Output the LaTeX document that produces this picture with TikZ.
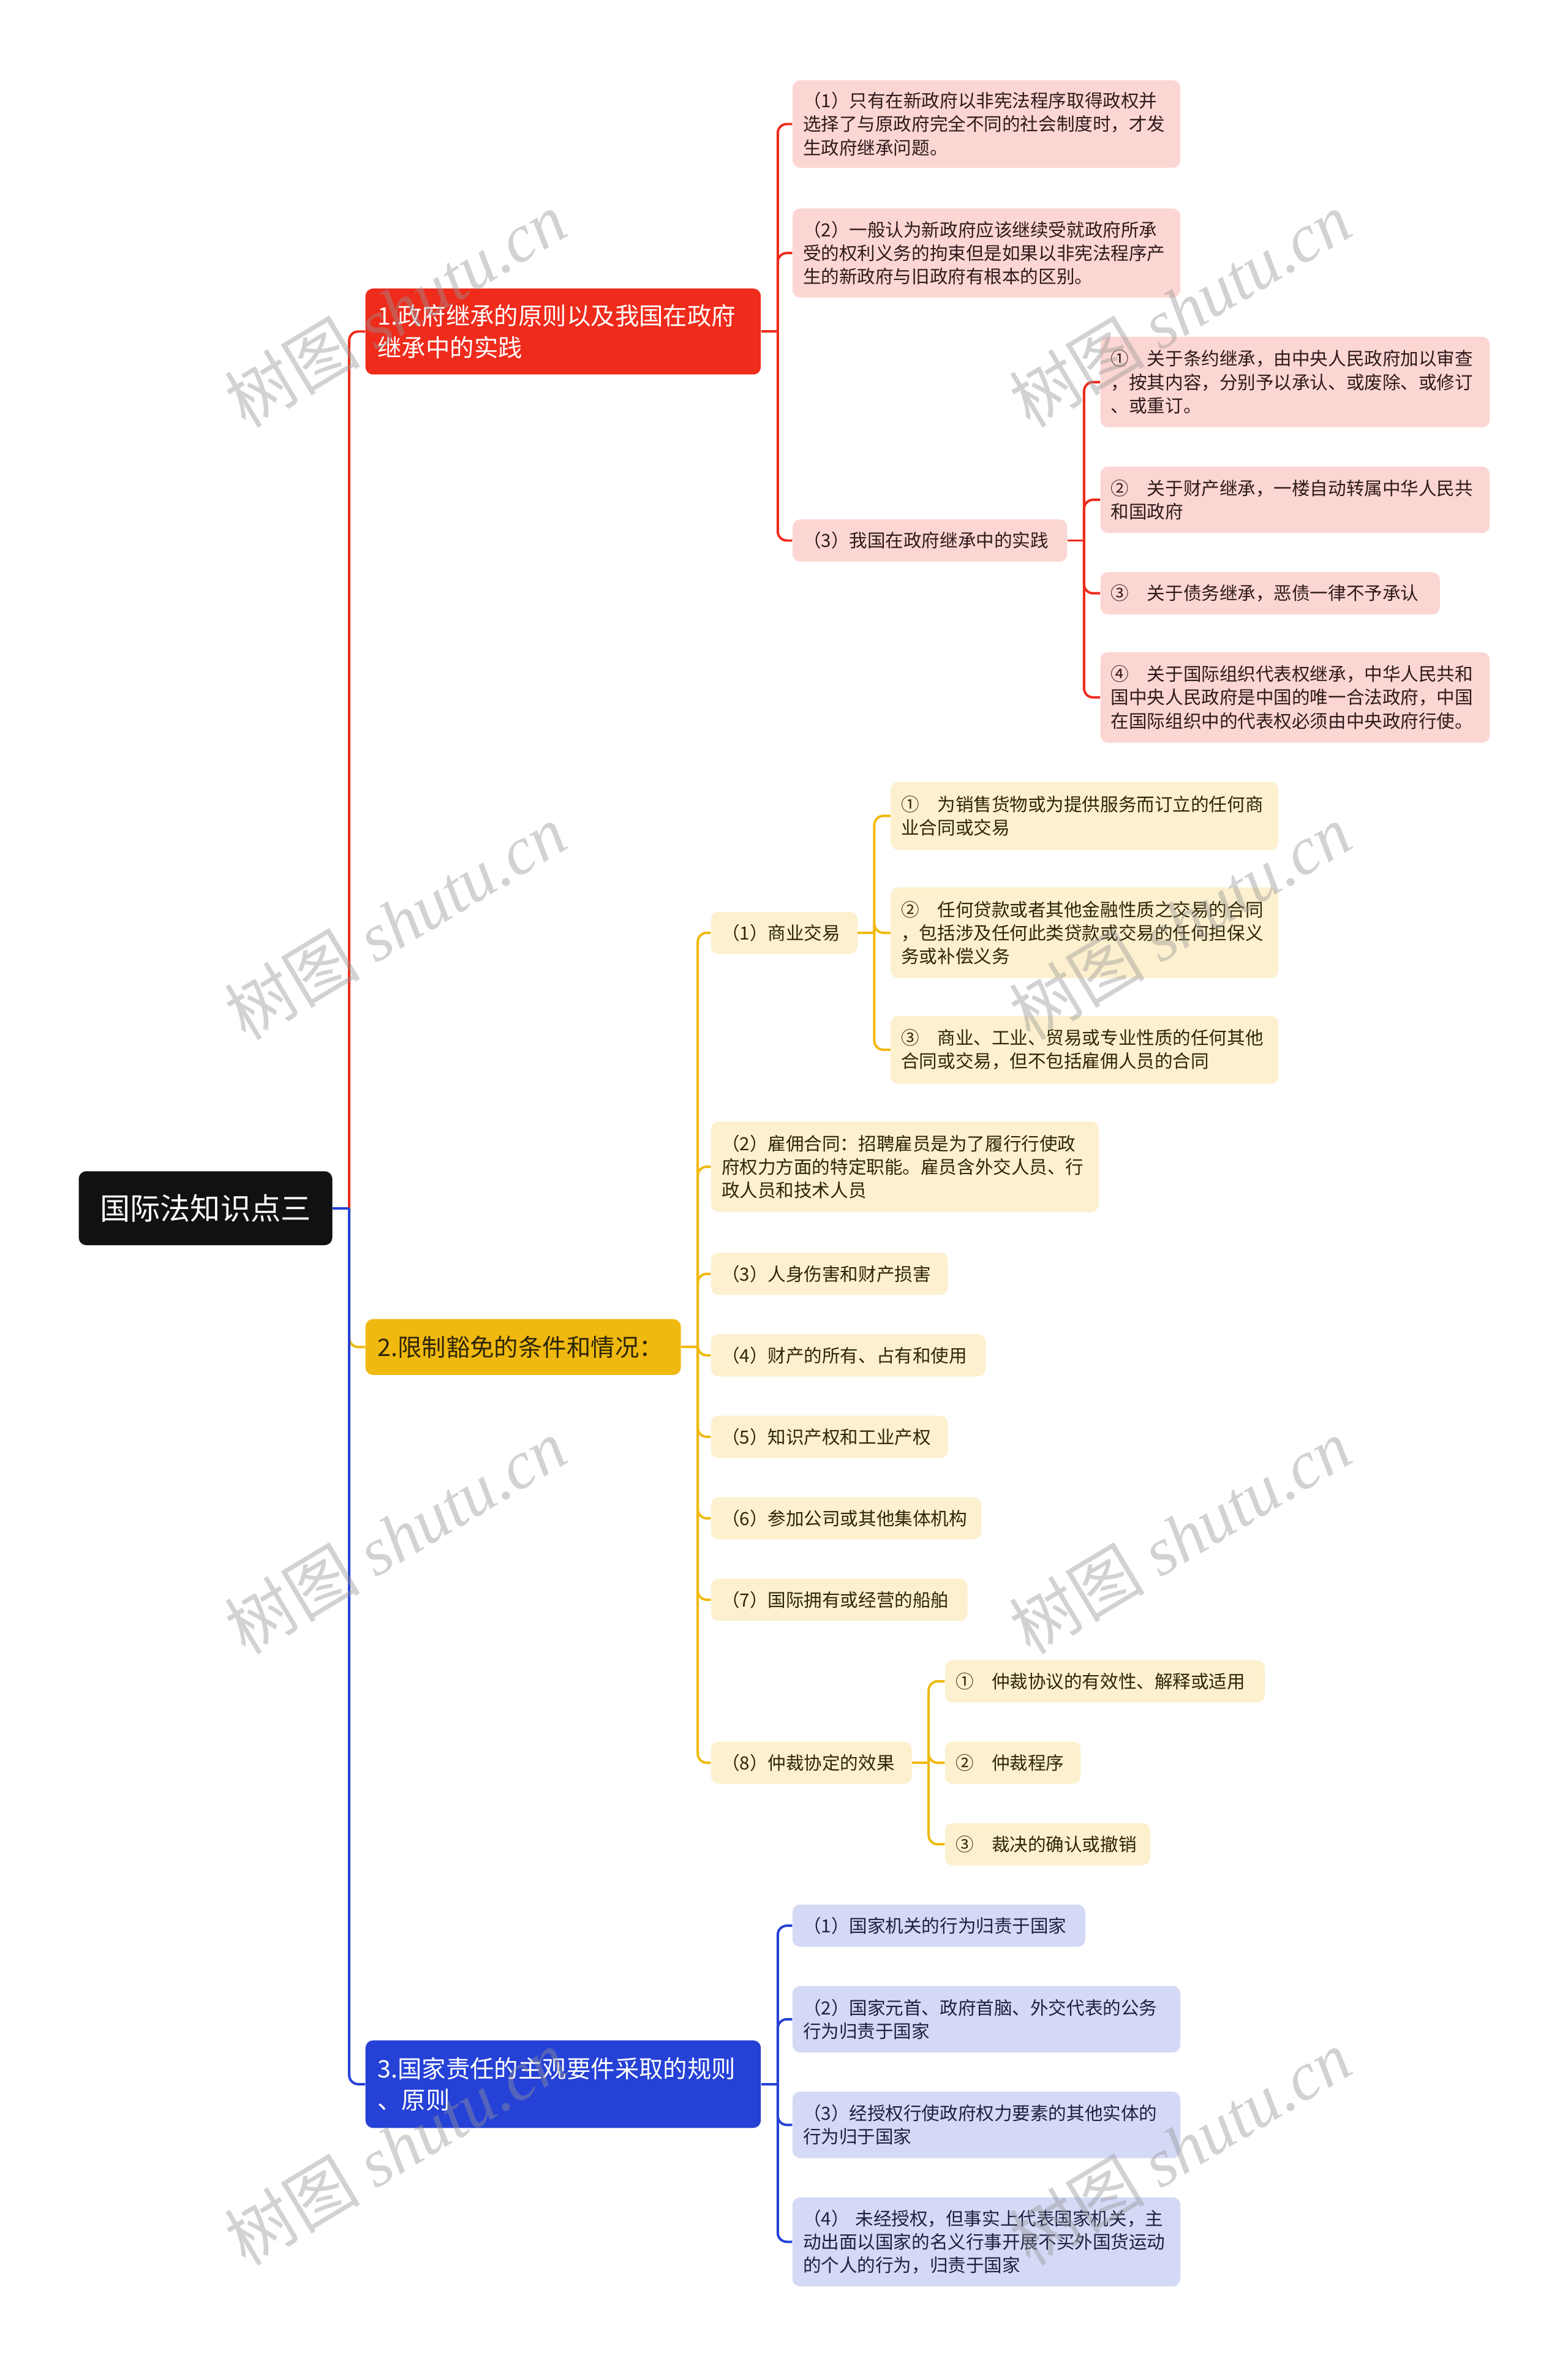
\documentclass[tikz,border=0pt]{standalone}
\usepackage{fontspec}
\setmainfont{Noto Sans CJK SC}
\newfontfamily\wmserif{Liberation Serif}
\newfontfamily\wmcjk{Noto Sans CJK SC}
\definecolor{cRed}{HTML}{EF2B1B}
\definecolor{cRedL}{HTML}{FCD6D3}
\definecolor{cYel}{HTML}{F0B90F}
\definecolor{cYelL}{HTML}{FDF0CE}
\definecolor{cBlu}{HTML}{2541D6}
\definecolor{cBluL}{HTML}{D4D9F6}
\definecolor{cRoot}{HTML}{111111}
\definecolor{tRed}{HTML}{2E1A1A}
\definecolor{tYel}{HTML}{2E2608}
\definecolor{tBlu}{HTML}{1C2140}
\definecolor{cWm}{HTML}{969696}
\tikzset{
  base/.style={rectangle, rounded corners=5pt, inner xsep=6pt, inner ysep=0pt, align=left, anchor=north west},
  sub/.style={base, font=\fontsize{12}{15.5}\selectfont},
  pinkbox/.style={sub, fill=cRedL, text=tRed},
  yelbox/.style={sub, fill=cYelL, text=tYel},
  blubox/.style={sub, fill=cBluL, text=tBlu},
  mainbox/.style={base, inner xsep=8pt, font=\fontsize{16}{21}\selectfont},
  redmain/.style={mainbox, fill=cRed, text=white},
  yelmain/.style={mainbox, fill=cYel, text=tYel},
  blumain/.style={mainbox, fill=cBlu, text=white},
  rootbox/.style={rectangle, rounded corners=5pt, fill=cRoot, text=white, anchor=north west, align=center, font=\fontsize{20}{24}\selectfont},
  lnR/.style={draw=cRed, line width=1.6pt, rounded corners=6pt},
  lnY/.style={draw=cYel, line width=1.6pt, rounded corners=6pt},
  lnB/.style={draw=cBlu, line width=1.6pt, rounded corners=6pt},
  wm/.style={text=cWm, text opacity=0.42, rotate=31, inner sep=0pt, font=\fontsize{45}{49}\selectfont},
}
\newcommand\boxnode[7]{%
  \pgfmathsetmacro\bw{#5-#3}%
  \pgfmathsetmacro\bh{#6-#4}%
  \pgfmathsetmacro\tw{#5-#3-14}%
  \node[#2, minimum width=\bw pt, minimum height=\bh pt, text width=\tw pt] (#1) at (#3,#4) {#7};}
\begin{document}
\begin{tikzpicture}[x=1pt, y={(0pt,-1pt)}]
\useasboundingbox[fill=white] (0,0) rectangle (1039,1568);

% root and main branches
\node[rootbox, minimum width=168pt, minimum height=49pt] (root) at (52,776) {国际法知识点三};
\boxnode{b1}{redmain}{242}{191}{502}{248}{1.政府继承的原则以及我国在政府\\继承中的实践}
\boxnode{b2}{yelmain}{242}{874}{449}{911}{2.限制豁免的条件和情况：}
\boxnode{b3}{blumain}{242}{1352}{502}{1410}{3.国家责任的主观要件采取的规则\\、原则}

% branch 1
\boxnode{c11}{pinkbox}{525}{53}{782}{111}{（1）只有在新政府以非宪法程序取得政权并\\选择了与原政府完全不同的社会制度时，才发\\生政府继承问题。}
\boxnode{c12}{pinkbox}{525}{138}{782}{197}{（2）一般认为新政府应该继续受就政府所承\\受的权利义务的拘束但是如果以非宪法程序产\\生的新政府与旧政府有根本的区别。}
\boxnode{c13}{pinkbox}{525}{344}{707}{372}{（3）我国在政府继承中的实践}
\boxnode{c131}{pinkbox}{729}{223}{987}{283}{①　关于条约继承，由中央人民政府加以审查\\，按其内容，分别予以承认、或废除、或修订\\、或重订。}
\boxnode{c132}{pinkbox}{729}{309}{987}{353}{②　关于财产继承，一楼自动转属中华人民共\\和国政府}
\boxnode{c133}{pinkbox}{729}{379}{954}{407}{③　关于债务继承，恶债一律不予承认}
\boxnode{c134}{pinkbox}{729}{432}{987}{492}{④　关于国际组织代表权继承，中华人民共和\\国中央人民政府是中国的唯一合法政府，中国\\在国际组织中的代表权必须由中央政府行使。}

% branch 2
\boxnode{c21}{yelbox}{471}{604}{568}{632}{（1）商业交易}
\boxnode{c211}{yelbox}{590}{518}{847}{563}{①　为销售货物或为提供服务而订立的任何商\\业合同或交易}
\boxnode{c212}{yelbox}{590}{588}{847}{648}{②　任何贷款或者其他金融性质之交易的合同\\，包括涉及任何此类贷款或交易的任何担保义\\务或补偿义务}
\boxnode{c213}{yelbox}{590}{673}{847}{718}{③　商业、工业、贸易或专业性质的任何其他\\合同或交易，但不包括雇佣人员的合同}
\boxnode{c22}{yelbox}{471}{743}{728}{803}{（2）雇佣合同：招聘雇员是为了履行行使政\\府权力方面的特定职能。雇员含外交人员、行\\政人员和技术人员}
\boxnode{c23}{yelbox}{471}{830}{628}{858}{（3）人身伤害和财产损害}
\boxnode{c24}{yelbox}{471}{884}{653}{912}{（4）财产的所有、占有和使用}
\boxnode{c25}{yelbox}{471}{938}{628}{966}{（5）知识产权和工业产权}
\boxnode{c26}{yelbox}{471}{992}{650}{1020}{（6）参加公司或其他集体机构}
\boxnode{c27}{yelbox}{471}{1046}{641}{1074}{（7）国际拥有或经营的船舶}
\boxnode{c28}{yelbox}{471}{1154}{604}{1182}{（8）仲裁协定的效果}
\boxnode{c281}{yelbox}{626}{1100}{838}{1128}{①　仲裁协议的有效性、解释或适用}
\boxnode{c282}{yelbox}{626}{1154}{716}{1182}{②　仲裁程序}
\boxnode{c283}{yelbox}{626}{1208}{762}{1236}{③　裁决的确认或撤销}

% branch 3
\boxnode{c31}{blubox}{525}{1262}{719}{1290}{（1）国家机关的行为归责于国家}
\boxnode{c32}{blubox}{525}{1316}{782}{1360}{（2）国家元首、政府首脑、外交代表的公务\\行为归责于国家}
\boxnode{c33}{blubox}{525}{1386}{782}{1430}{（3）经授权行使政府权力要素的其他实体的\\行为归于国家}
\boxnode{c34}{blubox}{525}{1456}{782}{1515}{（4） 未经授权，但事实上代表国家机关，主\\动出面以国家的名义行事开展不买外国货运动\\的个人的行为，归责于国家}

% connectors: trunk
\coordinate (rx) at ([xshift=11pt]root.east);
\draw[lnR] (rx) |- (b1.west);
\draw[lnY] (rx) |- (b2.west);
\draw[lnB] (rx) |- (b3.west);
\draw[lnB] (root.east) -- (rx);

% branch 1 connectors
\coordinate (b1x) at ([xshift=11pt]b1.east);
\draw[lnR] (b1.east) -- (b1x);
\foreach \c in {c11,c12,c13} \draw[lnR] (b1x) |- (\c.west);
\coordinate (c13x) at ([xshift=11pt]c13.east);
\draw[lnR] (c13.east) -- (c13x);
\foreach \c in {c131,c132,c133,c134} \draw[lnR] (c13x) |- (\c.west);

% branch 2 connectors
\coordinate (b2x) at ([xshift=11pt]b2.east);
\draw[lnY] (b2.east) -- (b2x);
\foreach \c in {c21,c22,c23,c24,c25,c26,c27,c28} \draw[lnY] (b2x) |- (\c.west);
\coordinate (c21x) at ([xshift=11pt]c21.east);
\draw[lnY] (c21.east) -- (c21x);
\foreach \c in {c211,c212,c213} \draw[lnY] (c21x) |- (\c.west);
\coordinate (c28x) at ([xshift=11pt]c28.east);
\draw[lnY] (c28.east) -- (c28x);
\foreach \c in {c281,c282,c283} \draw[lnY] (c28x) |- (\c.west);

% branch 3 connectors
\coordinate (b3x) at ([xshift=11pt]b3.east);
\draw[lnB] (b3.east) -- (b3x);
\foreach \c in {c31,c32,c33,c34} \draw[lnB] (b3x) |- (\c.west);

% watermarks
\foreach \wx in {262,782} {
  \foreach \wy in {205,611,1018,1423} {
    \node[wm] (wm\wx-\wy) at (\wx,\wy) {{\wmcjk 树图} {\wmserif\itshape shutu.cn}};
  }
}
\end{tikzpicture}
\end{document}
